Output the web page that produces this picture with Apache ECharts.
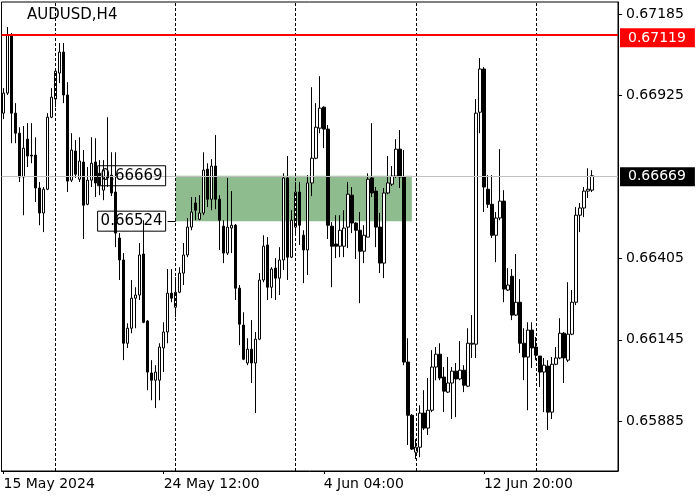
<!DOCTYPE html>
<html>
<head>
<meta charset="utf-8">
<script src="https://cdn.jsdelivr.net/npm/echarts@6/dist/echarts.min.js"></script>
<style>html,body{margin:0;padding:0;background:#fff}#c{width:700px;height:500px}</style>
</head>
<body>
<div id="c"></div>
<script>
const symbolTitle = 'AUDUSD,H4';
const opens = [0.66869,0.66933,0.67118,0.66869,0.66805,0.66665,0.66786,0.66735,0.66735,0.66630,
0.66550,0.66626,0.66856,0.66914,0.66997,0.67064,0.66927,0.66655,0.66748,0.66658,
0.66713,0.66578,0.66655,0.66713,0.66677,0.66623,0.66668,0.66671,0.66617,0.66470,
0.66400,0.66134,0.66182,0.66278,0.66288,0.66419,0.66205,0.66039,0.66016,0.66016,
0.66119,0.66170,0.66294,0.66249,0.66297,0.66358,0.66416,0.66505,0.66582,0.66530,
0.66550,0.66690,0.66594,0.66700,0.66594,0.66508,0.66422,0.66502,0.66511,0.66310,
0.66192,0.66071,0.66115,0.66071,0.66147,0.66336,0.66448,0.66313,0.66374,0.66342,
0.66400,0.66662,0.66409,0.66505,0.66617,0.66479,0.66432,0.66646,0.66725,0.66821,
0.66888,0.66818,0.66508,0.66451,0.66444,0.66444,0.66505,0.66607,0.66518,0.66495,
0.66428,0.66473,0.66662,0.66620,0.66505,0.66390,0.66614,0.66642,0.66668,0.66754,
0.66665,0.66074,0.65904,0.65786,0.65802,0.65911,0.65863,0.65920,0.66058,0.66099,
0.66026,0.65978,0.66007,0.66045,0.66020,0.66048,0.65997,0.66131,0.66131,0.66872,
0.67010,0.66626,0.66578,0.66479,0.66534,0.66588,0.66304,0.66348,0.66224,0.66265,
0.66134,0.66090,0.66176,0.66122,0.66093,0.66042,0.66061,0.65914,0.66067,0.66087,
0.66166,0.66080,0.66163,0.66265,0.66543,0.66566,0.66620,0.66623];
const closes = [0.66933,0.67118,0.66869,0.66805,0.66665,0.66757,0.66732,0.66732,0.66630,0.66550,
0.66626,0.66856,0.66920,0.67003,0.67064,0.66927,0.66652,0.66751,0.66674,0.66716,
0.66575,0.66655,0.66709,0.66646,0.66639,0.66687,0.66662,0.66614,0.66486,0.66400,
0.66134,0.66182,0.66278,0.66288,0.66416,0.66201,0.66042,0.66016,0.66042,0.66122,
0.66170,0.66294,0.66278,0.66297,0.66358,0.66416,0.66505,0.66553,0.66559,0.66550,
0.66687,0.66594,0.66700,0.66594,0.66527,0.66422,0.66505,0.66511,0.66310,0.66195,
0.66083,0.66115,0.66071,0.66147,0.66336,0.66444,0.66313,0.66371,0.66342,0.66400,
0.66662,0.66409,0.66527,0.66617,0.66511,0.66432,0.66646,0.66725,0.66824,0.66885,
0.66818,0.66511,0.66444,0.66444,0.66495,0.66502,0.66610,0.66518,0.66495,0.66428,
0.66479,0.66658,0.66614,0.66505,0.66390,0.66614,0.66646,0.66668,0.66754,0.66665,
0.66074,0.65904,0.65796,0.65802,0.65911,0.65863,0.65920,0.66058,0.66099,0.66023,
0.65981,0.66007,0.66045,0.66020,0.66048,0.66000,0.66134,0.66134,0.66869,0.67010,
0.66633,0.66578,0.66479,0.66534,0.66588,0.66307,0.66320,0.66224,0.66265,0.66134,
0.66090,0.66176,0.66119,0.66096,0.66042,0.66064,0.65914,0.66067,0.66087,0.66166,
0.66087,0.66163,0.66265,0.66543,0.66566,0.66620,0.66626,0.66669];
const highs = [0.66949,0.67144,0.67125,0.66901,0.66824,0.66828,0.66837,0.66837,0.66792,0.66649,
0.66633,0.66869,0.66949,0.67013,0.67093,0.67093,0.66968,0.66805,0.66783,0.66792,
0.66751,0.66697,0.66792,0.66789,0.66719,0.66719,0.66856,0.66744,0.66744,0.66486,
0.66422,0.66198,0.66336,0.66313,0.66454,0.66527,0.66208,0.66080,0.66064,0.66134,
0.66201,0.66371,0.66371,0.66345,0.66377,0.66454,0.66534,0.66601,0.66601,0.66607,
0.66744,0.66709,0.66722,0.66799,0.66607,0.66527,0.66662,0.66620,0.66515,0.66320,
0.66233,0.66150,0.66208,0.66170,0.66358,0.66479,0.66473,0.66377,0.66406,0.66441,
0.66677,0.66732,0.66559,0.66649,0.66649,0.66495,0.66671,0.66952,0.66901,0.66987,
0.66891,0.66831,0.66521,0.66543,0.66543,0.66559,0.66649,0.66633,0.66521,0.66553,
0.66511,0.66677,0.66837,0.66633,0.66550,0.66630,0.66732,0.66700,0.66786,0.66815,
0.66751,0.66150,0.65908,0.65828,0.65936,0.65984,0.66023,0.66112,0.66122,0.66134,
0.66058,0.66090,0.66058,0.66071,0.66141,0.66064,0.66182,0.66224,0.66914,0.67045,
0.67016,0.66671,0.66671,0.66553,0.66754,0.66623,0.66374,0.66371,0.66419,0.66339,
0.66182,0.66201,0.66201,0.66154,0.66093,0.66087,0.66080,0.66090,0.66122,0.66214,
0.66170,0.66329,0.66304,0.66569,0.66582,0.66633,0.66693,0.66687];
const lows = [0.66850,0.66927,0.66773,0.66773,0.66649,0.66543,0.66697,0.66709,0.66585,0.66511,
0.66489,0.66623,0.66853,0.66888,0.66965,0.66901,0.66617,0.66649,0.66662,0.66649,
0.66467,0.66575,0.66633,0.66601,0.66607,0.66591,0.66633,0.66604,0.66441,0.66336,
0.66080,0.66119,0.66166,0.66182,0.66272,0.66198,0.65984,0.65952,0.65927,0.65952,
0.66042,0.66134,0.66265,0.66217,0.66294,0.66320,0.66409,0.66495,0.66527,0.66527,
0.66543,0.66569,0.66559,0.66562,0.66432,0.66390,0.66416,0.66422,0.66272,0.66128,
0.66080,0.66064,0.66007,0.65911,0.66144,0.66329,0.66272,0.66278,0.66272,0.66288,
0.66368,0.66336,0.66406,0.66486,0.66448,0.66326,0.66352,0.66604,0.66722,0.66805,
0.66757,0.66467,0.66313,0.66406,0.66409,0.66409,0.66438,0.66486,0.66403,0.66262,
0.66390,0.66473,0.66601,0.66441,0.66358,0.66342,0.66610,0.66636,0.66662,0.66630,
0.66064,0.65809,0.65793,0.65764,0.65770,0.65857,0.65841,0.65914,0.66016,0.66016,
0.65914,0.65975,0.65892,0.65898,0.66016,0.65978,0.65994,0.66087,0.66087,0.66805,
0.66553,0.66566,0.66470,0.66393,0.66527,0.66265,0.66301,0.66208,0.66221,0.66103,
0.66016,0.65920,0.66055,0.66080,0.65994,0.65914,0.65857,0.65892,0.66064,0.66083,
0.66007,0.66074,0.66160,0.66256,0.66489,0.66537,0.66598,0.66617];

// time axis (H4 bars, weekends skipped), first bar 15 May 2024 20:00
const firstBarUtc = Date.UTC(2024, 4, 15, 20, 0);
const slotCount = 154;             // bars + empty right shift
const xTickIndex = [0, 40, 80, 120];
const xTickText = ['15 May 2024', '24 May 12:00', '4 Jun 04:00', '12 Jun 20:00'];
const weekStartIndex = [13, 43, 73, 103, 133];
const yTicks = [0.65885, 0.66145, 0.66405, 0.66925, 0.67185];
const yMin = 0.65726, yMax = 0.67224;
const resistanceLevel = 0.67119;
const lastPrice = 0.66669;
const zoneTop = 0.66669, zoneBottom = 0.66524;
const zoneStart = 43, zoneEnd = 102, zoneLabelFrom = 41;

const months = ['Jan','Feb','Mar','Apr','May','Jun','Jul','Aug','Sep','Oct','Nov','Dec'];
const categories = [];
for (let t = firstBarUtc; categories.length < slotCount; t += 4 * 3600e3) {
  const d = new Date(t); const wd = d.getUTCDay();
  if (wd === 0 || wd === 6) continue;
  categories.push(d.getUTCDate() + ' ' + months[d.getUTCMonth()] + ' ' + String(d.getUTCHours()).padStart(2,'0') + ':00');
}
const candles = opens.map((o, i) => [o, closes[i], lows[i], highs[i]]);

const FONT = 'DejaVu Sans';
const isTick = (i) => xTickIndex.indexOf(i) >= 0;

const chart = echarts.init(document.getElementById('c'), null, {renderer: 'canvas'});
const boxLabel = (txt) => ({
  show: true, position: 'start', distance: 2, formatter: txt,
  color: '#000', fontSize: 15, fontFamily: FONT, lineHeight: 18,
  borderColor: '#000', borderWidth: 1, padding: [1, 3, 1, 3]
});
const priceLabel = (txt, bg, dy) => ({
  show: true, position: 'end', distance: 2, formatter: txt,
  color: '#fff', backgroundColor: bg, fontSize: 14, fontFamily: FONT, lineHeight: 16,
  padding: [2, 9, 1, 8], offset: [0, dy]
});

chart.setOption({
  animation: false,
  backgroundColor: '#fff',
  textStyle: {fontFamily: FONT},
  title: {text: symbolTitle, left: 22, top: 3,
    textStyle: {fontSize: 15, fontWeight: 'normal', color: '#000', fontFamily: FONT}},
  grid: {left: 1.5, right: 82, top: 2, bottom: 29, show: true, borderColor: '#000', borderWidth: 1, backgroundColor: '#fff'},
  xAxis: {
    type: 'category', data: categories, boundaryGap: true,
    axisLine: {show: true, lineStyle: {color: '#000', width: 1}},
    axisTick: {show: true, alignWithLabel: true, length: 3, interval: (i) => isTick(i), lineStyle: {color: '#000'}},
    axisLabel: {show: true, interval: (i) => isTick(i), align: 'left', margin: 6, color: '#000', fontSize: 14, fontFamily: FONT,
      formatter: (v, i) => { const k = xTickIndex.indexOf(i); return k >= 0 ? xTickText[k] : ''; }},
    splitLine: {show: false}
  },
  yAxis: {
    type: 'value', position: 'right', min: yMin, max: yMax, scale: true,
    axisLine: {show: true, lineStyle: {color: '#000'}},
    axisTick: {show: true, length: 4, customValues: yTicks, lineStyle: {color: '#000'}},
    axisLabel: {show: true, customValues: yTicks, margin: 8, color: '#000', fontSize: 14, fontFamily: FONT,
      formatter: (v) => v.toFixed(5)},
    splitLine: {show: false}
  },
  series: [
    {
      type: 'line', data: [], z: 1, silent: true,
      markArea: {silent: true, itemStyle: {color: '#8fbc8f', opacity: 1},
        data: [[{xAxis: zoneStart, yAxis: zoneTop}, {xAxis: zoneEnd, yAxis: zoneBottom}]]},
      markLine: {
        silent: true, symbol: ['none', 'none'], animation: false, precision: 5,
        data: [
          ...weekStartIndex.map(ix => ({xAxis: ix, lineStyle: {color: '#000', width: 1, type: [3, 2]}, label: {show: false}})),
          {yAxis: lastPrice, lineStyle: {color: '#c0c0c0', width: 1, type: 'solid'}, label: priceLabel(lastPrice.toFixed(5), '#000', 1)},
          {yAxis: resistanceLevel, lineStyle: {color: '#ff0000', width: 2, type: 'solid'}, label: priceLabel(resistanceLevel.toFixed(5), '#ff0000', 3)},
          [{coord: [zoneLabelFrom, zoneTop], lineStyle: {color: '#c0c0c0', width: 1, type: 'solid'}, label: boxLabel(zoneTop.toFixed(5))},
           {coord: [zoneStart, zoneTop]}],
          [{coord: [zoneLabelFrom, zoneBottom], lineStyle: {color: '#000', width: 1, type: 'solid'}, label: boxLabel(zoneBottom.toFixed(5))},
           {coord: [zoneStart, zoneBottom]}]
        ]
      }
    },
    {
      type: 'candlestick', data: candles, z: 3, barWidth: 3,
      itemStyle: {color: '#fff', color0: '#000', borderColor: '#000', borderColor0: '#000', borderColorDoji: '#000', borderWidth: 1}
    }
  ]
});
</script>
</body>
</html>
